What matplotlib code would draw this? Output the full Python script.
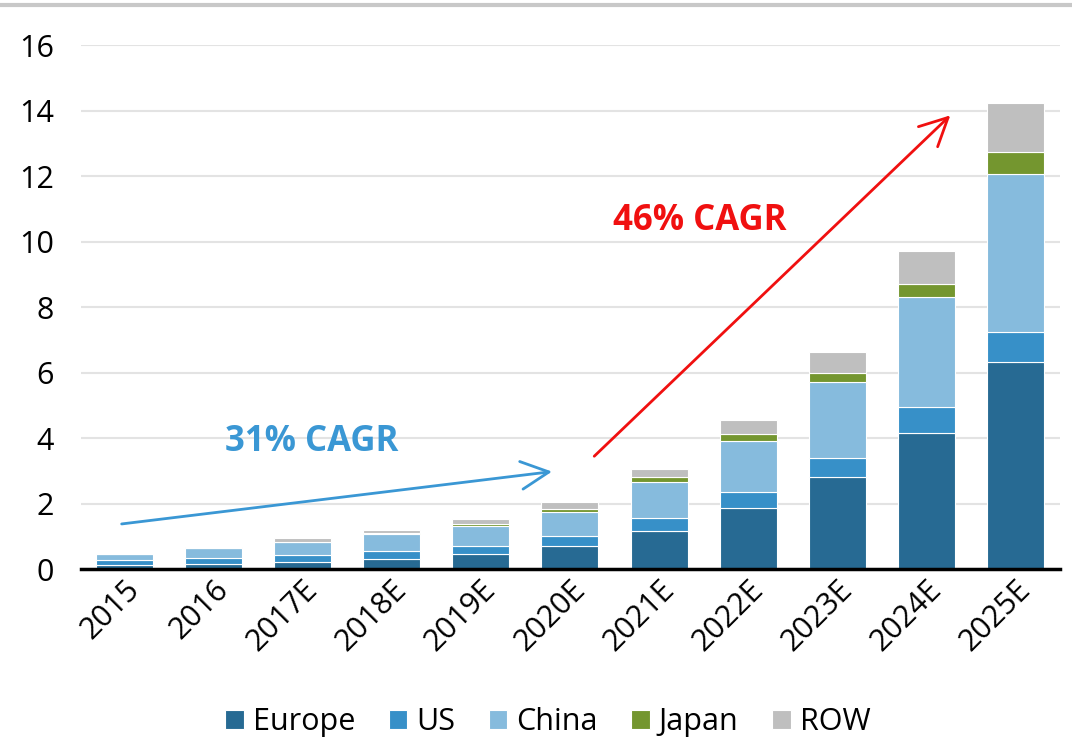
import matplotlib
matplotlib.use('Agg')
from matplotlib import pyplot as plt
from matplotlib.lines import Line2D
import numpy as np

plt.rcParams['font.family'] = ['Open Sans', 'DejaVu Sans']

# data
years = ['2015', '2016', '2017E', '2018E', '2019E', '2020E',
         '2021E', '2022E', '2023E', '2024E', '2025E']
europe = [0.12, 0.17, 0.22, 0.31, 0.45, 0.70, 1.17, 1.88, 2.82, 4.16, 6.33]
us = [0.15, 0.16, 0.20, 0.24, 0.27, 0.30, 0.38, 0.48, 0.56, 0.80, 0.90]
china = [0.18, 0.32, 0.40, 0.51, 0.61, 0.75, 1.12, 1.56, 2.34, 3.36, 4.85]
japan = [0.01, 0.01, 0.02, 0.04, 0.05, 0.10, 0.13, 0.20, 0.28, 0.40, 0.66]
row = [0.01, 0.02, 0.12, 0.11, 0.14, 0.20, 0.27, 0.45, 0.64, 1.00, 1.50]

series = [('Europe', europe, '#276a93'),
          ('US', us, '#3790c8'),
          ('China', china, '#86bbdd'),
          ('Japan', japan, '#74962f'),
          ('ROW', row, '#bfbfbf')]

fig = plt.figure(figsize=(10.72, 7.43), dpi=100)
ax = fig.add_axes([0.076, 0.234, 0.913, 0.705])

x = np.arange(len(years))
bottom = np.zeros(len(years))
for name, vals, col in series:
    ax.bar(x, vals, 0.64, bottom=bottom, color=col, label=name,
           edgecolor='white', linewidth=0.8, zorder=3)
    bottom += np.array(vals)

ax.set_ylim(0, 16)
ax.set_xlim(-0.48, 10.5)
ax.set_yticks(range(0, 17, 2))
ax.yaxis.grid(True, color='#e3e3e3', linewidth=1.5, zorder=0)
ax.tick_params(axis='y', length=0, labelsize=22, pad=20)
ax.tick_params(axis='x', length=0, labelsize=22, pad=4)
ax.set_xticks(x)
ax.set_xticklabels(years, rotation=45, ha='right', rotation_mode='anchor')
for s in ['left', 'right', 'top']:
    ax.spines[s].set_visible(False)
ax.spines['bottom'].set_linewidth(2.5)
ax.spines['bottom'].set_color('black')
ax.spines['bottom'].set_zorder(5)

# CAGR arrows
head = '->,head_length=2.0,head_width=1.0'
ax.annotate('', xy=(4.83, 2.99), xytext=(-0.06, 1.37),
            arrowprops=dict(arrowstyle=head, color='#3a97d4', lw=2.0),
            zorder=6)
ax.text(2.1, 3.88, '31% CAGR', color='#3a97d4', fontsize=25,
        fontweight='bold', ha='center', va='center')
ax.annotate('', xy=(9.29, 13.92), xytext=(5.25, 3.39),
            arrowprops=dict(arrowstyle=head, color='#f01010', lw=2.0),
            zorder=6)
ax.text(6.46, 10.63, '46% CAGR', color='#f01010', fontsize=25,
        fontweight='bold', ha='center', va='center')

leg = fig.legend(loc='center', bbox_to_anchor=(0.511, 0.028), ncol=5,
                 frameon=False, fontsize=22, handlelength=0.6,
                 handleheight=0.6, handletextpad=0.3, columnspacing=1.1)

# thin grey border line at top of picture
fig.add_artist(Line2D([0, 1], [0.993, 0.993], color='#c8c8c8', lw=3,
                      transform=fig.transFigure))

fig.savefig('out.png', dpi=100)
